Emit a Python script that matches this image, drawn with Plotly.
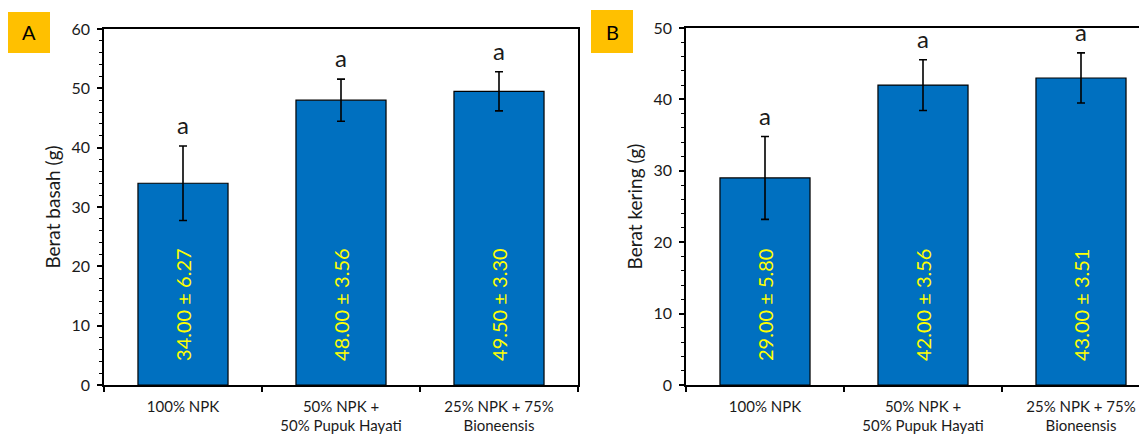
import plotly.graph_objects as go

categories = ["100% NPK", "50% NPK +<br>50% Pupuk Hayati", "25% NPK + 75%<br>Bioneensis"]
wet_mean = [34.00, 48.00, 49.50]
wet_sd = [6.27, 3.56, 3.30]
dry_mean = [29.00, 42.00, 43.00]
dry_sd = [5.80, 3.56, 3.51]
letters_wet = ["a", "a", "a"]
letters_dry = ["a", "a", "a"]

FONT = "Lato, Carlito, 'Open Sans', sans-serif"
BAR = "#0070C0"
TXT = "#1a1a1a"
OFF = 8                      # page body margin
W, H = 1147 - OFF, 439 - OFF

fig = go.Figure()

def add_panel(means, sds, xa, ya):
    fig.add_trace(go.Bar(
        x=categories, y=means, xaxis=xa, yaxis=ya, width=0.57,
        marker=dict(color=BAR, line=dict(color="black", width=1.2)),
        error_y=dict(type="data", array=sds, visible=True, color="black",
                     thickness=1.6, width=4),
        showlegend=False, hoverinfo="skip"))

add_panel(wet_mean, wet_sd, "x", "y")
add_panel(dry_mean, dry_sd, "x2", "y2")

def px_x(p):
    return (p - OFF) / W

def px_y(p):
    return (H - (p - OFF)) / H

base = dict(showline=True, linecolor="black", linewidth=1.5, automargin=False,
            showgrid=False, zeroline=False, ticks="outside",
            tickcolor="black", tickwidth=1.5, ticklen=5)
xfont = dict(family=FONT, size=15, color=TXT)
yfont = dict(family=FONT, size=16, color=TXT)
minor = dict(dtick=2, ticks="outside", ticklen=3, tickcolor="black", tickwidth=1.2)

fig.update_layout(
    width=W, height=H, margin=dict(l=0, r=0, t=0, b=0, autoexpand=False),
    paper_bgcolor="white", plot_bgcolor="white",
    font=dict(family=FONT, color=TXT),
    xaxis=dict(domain=[px_x(104), px_x(578)], type="category", tickson="boundaries",
               range=[-0.5, 2.5], mirror=True, anchor="y", tickfont=xfont,
               ticklabelstandoff=7, **base),
    yaxis=dict(domain=[px_y(385), px_y(29)], range=[0, 60], dtick=10, mirror=True,
               anchor="x", minor=minor, tickfont=yfont, ticklabelstandoff=4,
               title=dict(text="Berat basah (g)", font=dict(family=FONT, size=19, color=TXT),
                          standoff=6),
               **base),
    xaxis2=dict(domain=[px_x(686), 1.0], type="category", tickson="boundaries",
                range=[-0.5, -0.5 + (1147 - 686) / 158.0], mirror=True, anchor="y2",
                tickfont=xfont, ticklabelstandoff=7, **base),
    yaxis2=dict(domain=[px_y(385), px_y(28)], range=[0, 50], dtick=10, mirror=False,
                anchor="x2", minor=minor, tickfont=yfont, ticklabelstandoff=4,
                title=dict(text="Berat kering (g)", font=dict(family=FONT, size=19, color=TXT),
                           standoff=6),
                **base),
)

annotations = []
for xa, ya, means, sds, letters, label_y in [
        ("x", "y", wet_mean, wet_sd, letters_wet, 13.5),
        ("x2", "y2", dry_mean, dry_sd, letters_dry, 11.2)]:
    for c, m, s, l in zip(categories, means, sds, letters):
        annotations.append(dict(x=c, y=m + s, xref=xa, yref=ya, text=l, showarrow=False,
                                yanchor="bottom", yshift=5,
                                font=dict(family=FONT, size=24, color=TXT)))
        annotations.append(dict(x=c, y=label_y, xref=xa, yref=ya,
                                text=f"{m:.2f} ± {s:.2f}", textangle=-90, showarrow=False,
                                font=dict(family=FONT, size=20, color="#FFFF00")))

# panel labels
for lab, x0, x1, y0, y1 in [("A", 8, 50, 12, 53), ("B", 591, 633, 10, 53)]:
    fig.add_shape(type="rect", xref="paper", yref="paper",
                  x0=px_x(x0), x1=px_x(x1), y0=px_y(y1), y1=px_y(y0),
                  fillcolor="#FFC000", line=dict(width=0), layer="below")
    annotations.append(dict(x=px_x((x0 + x1) / 2), y=px_y((y0 + y1) / 2), xref="paper",
                            yref="paper", text=lab, showarrow=False,
                            xanchor="center", yanchor="middle",
                            font=dict(family=FONT, size=20, color="black")))

fig.update_layout(annotations=annotations)
fig.write_html("out.html")
